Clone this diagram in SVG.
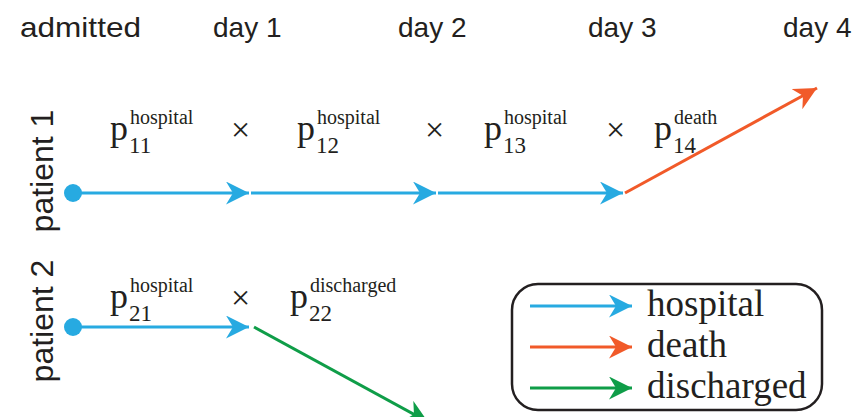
<svg xmlns="http://www.w3.org/2000/svg" width="855" height="417" viewBox="0 0 855 417">
<style>
.hd{font-family:"Liberation Sans",Arial,sans-serif;font-size:28px;fill:#231f20}
.pt{font-family:"Liberation Sans",Arial,sans-serif;font-size:32px;fill:#231f20}
.p{font-family:"Liberation Serif","Times New Roman",serif;font-size:36px;fill:#231f20}
.sup{font-family:"Liberation Serif","Times New Roman",serif;font-size:20px;fill:#231f20}
.sub{font-family:"Liberation Serif","Times New Roman",serif;font-size:23px;fill:#231f20}
.x{font-family:"Liberation Serif","Times New Roman",serif;font-size:34px;fill:#231f20}
.lg{font-family:"Liberation Serif","Times New Roman",serif;font-size:37px;fill:#231f20}
.b{stroke:#27aae1;stroke-width:3;fill:none}
.o{stroke:#f15a29;stroke-width:3;fill:none}
.g{stroke:#0f9d48;stroke-width:3;fill:none}
</style>
<defs>
<marker id="ab" markerUnits="userSpaceOnUse" markerWidth="24" markerHeight="24" refX="23" refY="11.5" orient="auto" viewBox="0 0 24 24"><path d="M0,0 L23,11.5 L0,23 L7,11.5 z" fill="#27aae1"/></marker>
<marker id="ao" markerUnits="userSpaceOnUse" markerWidth="24" markerHeight="24" refX="23" refY="11.5" orient="auto" viewBox="0 0 24 24"><path d="M0,0 L23,11.5 L0,23 L7,11.5 z" fill="#f15a29"/></marker>
<marker id="ag" markerUnits="userSpaceOnUse" markerWidth="24" markerHeight="24" refX="23" refY="11.5" orient="auto" viewBox="0 0 24 24"><path d="M0,0 L23,11.5 L0,23 L7,11.5 z" fill="#0f9d48"/></marker>
</defs>
<g id="header">
<text class="hd" x="20" y="37" textLength="121" lengthAdjust="spacingAndGlyphs">admitted</text>
<text class="hd" x="213" y="37">day 1</text>
<text class="hd" x="398" y="37">day 2</text>
<text class="hd" x="588" y="37">day 3</text>
<text class="hd" x="783" y="37">day 4</text>
</g>
<g id="patient1-label"><text class="pt" transform="translate(53,171) rotate(-90)" text-anchor="middle">patient 1</text></g>
<g id="patient2-label"><text class="pt" transform="translate(53,321) rotate(-90)" text-anchor="middle">patient 2</text></g>
<g id="connectors">
<line class="b" x1="73" y1="193" x2="249" y2="193" marker-end="url(#ab)"/>
<line class="b" x1="251" y1="193" x2="436" y2="193" marker-end="url(#ab)"/>
<line class="b" x1="438" y1="193" x2="623" y2="193" marker-end="url(#ab)"/>
<line class="o" x1="625" y1="193" x2="817" y2="88" marker-end="url(#ao)"/>
<line class="b" x1="73" y1="327" x2="249" y2="327" marker-end="url(#ab)"/>
<line class="g" x1="254" y1="327" x2="428" y2="422" marker-end="url(#ag)"/>
</g>
<g id="start1"><circle cx="73" cy="193" r="9" fill="#27aae1"/></g>
<g id="start2"><circle cx="73" cy="327" r="9" fill="#27aae1"/></g>
<g id="labels-row1">
<text class="p" x="110" y="140">p</text><text class="sup" x="130" y="124">hospital</text><text class="sub" x="129" y="153">11</text>
<text class="x" x="231" y="141">×</text>
<text class="p" x="297" y="140">p</text><text class="sup" x="317" y="124">hospital</text><text class="sub" x="316" y="153">12</text>
<text class="x" x="425" y="141">×</text>
<text class="p" x="484" y="140">p</text><text class="sup" x="504" y="124">hospital</text><text class="sub" x="503" y="153">13</text>
<text class="x" x="606" y="141">×</text>
<text class="p" x="654" y="140">p</text><text class="sup" x="674" y="124">death</text><text class="sub" x="673" y="153">14</text>
</g>
<g id="labels-row2">
<text class="p" x="110" y="308">p</text><text class="sup" x="130" y="292">hospital</text><text class="sub" x="129" y="321">21</text>
<text class="x" x="231" y="309">×</text>
<text class="p" x="290" y="308">p</text><text class="sup" x="310" y="292">discharged</text><text class="sub" x="309" y="321">22</text>
</g>
<g id="legend">
<rect x="512" y="284" width="310" height="126" rx="26" ry="26" fill="none" stroke="#231f20" stroke-width="2.5"/>
<line class="b" x1="530" y1="306" x2="632" y2="306" marker-end="url(#ab)"/>
<line class="o" x1="530" y1="347" x2="632" y2="347" marker-end="url(#ao)"/>
<line class="g" x1="530" y1="388" x2="632" y2="388" marker-end="url(#ag)"/>
<text class="lg" x="647" y="316">hospital</text>
<text class="lg" x="647" y="357">death</text>
<text class="lg" x="647" y="398">discharged</text>
</g>
</svg>
